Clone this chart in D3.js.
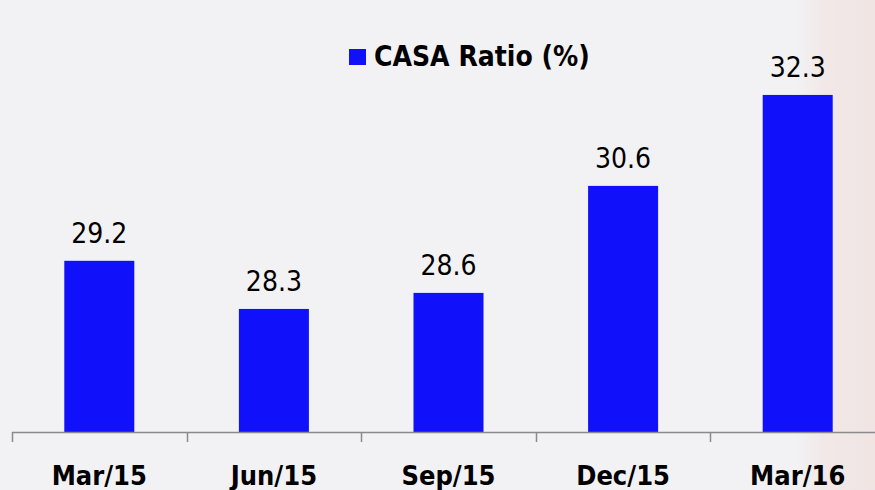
<!DOCTYPE html>
<html>
<head>
<meta charset="utf-8">
<script src="https://cdn.jsdelivr.net/npm/d3@7"></script>
<style>
  html, body { margin: 0; padding: 0; background: #f2f2f4; }
  svg { display: block; }
</style>
</head>
<body>
<svg id="mySvg"></svg>
<script>
const categories = ["Mar/15", "Jun/15", "Sep/15", "Dec/15", "Mar/16"];
const casaRatio = [29.2, 28.3, 28.6, 30.6, 32.3];
const seriesName = "CASA Ratio (%)";

const width = 875;
const height = 490;
const barColor = "#1010fa";
const font = "'DejaVu Sans Condensed', 'DejaVu Sans', sans-serif";

const svg = d3.select("#mySvg")
  .attr("width", width)
  .attr("height", height);

// faint pink wash on the right edge
const defs = svg.append("defs");
const grad = defs.append("linearGradient").attr("id", "wash")
  .attr("x1", "0").attr("x2", "1").attr("y1", "0").attr("y2", "0");
grad.append("stop").attr("offset", "0").attr("stop-color", "#f2f2f4");
grad.append("stop").attr("offset", "0.4").attr("stop-color", "#f1e8e7");
grad.append("stop").attr("offset", "1").attr("stop-color", "#f0e5e3");
svg.append("rect")
  .attr("x", 795).attr("y", 0)
  .attr("width", width - 795).attr("height", height)
  .attr("fill", "url(#wash)");

const xScale = d3.scaleBand()
  .domain(categories)
  .range([12, 885])
  .paddingInner(0)
  .paddingOuter(0);

const yScale = d3.scaleLinear()
  .domain([26, 34])
  .range([432, 4]);

const barW = 70;

svg.selectAll(".bar")
  .data(categories)
  .enter()
  .append("rect")
  .attr("class", "bar")
  .attr("x", (d) => xScale(d) + xScale.bandwidth() / 2 - barW / 2)
  .attr("y", (d, i) => yScale(casaRatio[i]))
  .attr("width", barW)
  .attr("height", (d, i) => yScale(26) - yScale(casaRatio[i]))
  .attr("fill", barColor);

svg.selectAll(".val")
  .data(categories)
  .enter()
  .append("text")
  .attr("class", "val")
  .attr("x", (d) => xScale(d) + xScale.bandwidth() / 2)
  .attr("y", (d, i) => yScale(casaRatio[i]) - 18)
  .attr("text-anchor", "middle")
  .style("font-family", font)
  .style("font-size", "28px")
  .attr("fill", "#000")
  .text((d, i) => casaRatio[i].toFixed(1));

// x axis: line + ticks at band boundaries
const axis = svg.append("g");
axis.append("line")
  .attr("x1", 12).attr("x2", width)
  .attr("y1", 432.5).attr("y2", 432.5)
  .attr("stroke", "#8a8a8a").attr("stroke-width", 1.5);
axis.selectAll(".tick")
  .data(categories)
  .enter()
  .append("line")
  .attr("x1", (d) => Math.round(xScale(d)) + 0.5)
  .attr("x2", (d) => Math.round(xScale(d)) + 0.5)
  .attr("y1", 432).attr("y2", 442)
  .attr("stroke", "#8a8a8a").attr("stroke-width", 1.5);

svg.selectAll(".cat")
  .data(categories)
  .enter()
  .append("text")
  .attr("class", "cat")
  .attr("x", (d) => xScale(d) + xScale.bandwidth() / 2)
  .attr("y", 485)
  .attr("text-anchor", "middle")
  .style("font-family", font)
  .style("font-weight", "bold")
  .style("font-size", "27px")
  .attr("fill", "#000")
  .text((d) => d);

// legend
const legend = svg.append("g");
legend.append("rect")
  .attr("x", 349).attr("y", 49)
  .attr("width", 17).attr("height", 16)
  .attr("fill", barColor);
legend.append("text")
  .attr("x", 374).attr("y", 66)
  .style("font-family", font)
  .style("font-weight", "bold")
  .style("font-size", "28px")
  .attr("fill", "#000")
  .text(seriesName);
</script>
</body>
</html>
